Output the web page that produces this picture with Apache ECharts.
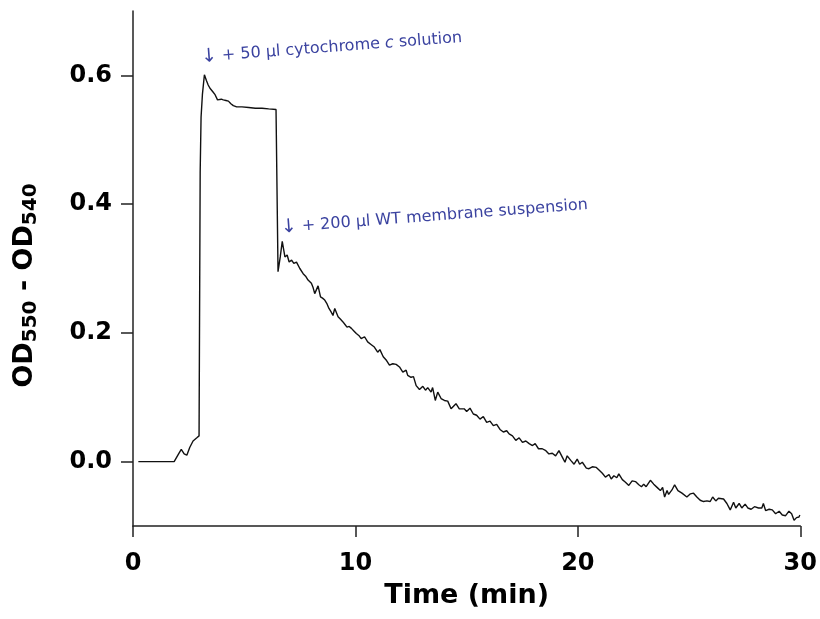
<!DOCTYPE html>
<html>
<head>
<meta charset="utf-8">
<script src="https://cdn.jsdelivr.net/npm/echarts@6/dist/echarts.min.js"></script>
<style>html,body{margin:0;padding:0;background:#fff}#c{width:820px;height:619px}</style>
</head>
<body>
<div id="c"></div>
<script>
// Time (min)
var timeMin = [0.24,1.85,2.05,2.17,2.30,2.42,2.55,2.70,2.87,2.97,3.02,3.06,3.12,3.21,3.30,3.38,3.46,3.58,3.69,3.80,3.88,3.97,4.06,4.18,4.29,4.40,4.51,4.66,4.90,5.20,5.50,5.80,6.10,6.43,
6.52,6.62,6.71,6.83,6.93,7.02,7.13,7.23,7.35,7.50,7.65,7.76,7.87,8.02,8.10,8.17,8.32,8.43,8.52,8.62,8.71,8.81,8.90,8.99,9.07,9.22,9.33,9.44,9.53,9.62,9.72,9.82,9.93,10.04,10.15,10.26,10.41,
10.55,10.70,10.85,11.00,11.10,11.25,11.40,11.53,11.68,11.83,11.98,12.13,12.28,12.35,12.50,12.61,12.73,12.88,13.03,13.15,13.25,13.40,13.47,13.59,13.70,13.85,14.00,14.15,14.30,14.52,14.67,14.89,
15.00,15.15,15.30,15.45,15.60,15.75,15.90,16.05,16.20,16.35,16.50,16.65,16.80,16.91,17.06,17.21,17.36,17.51,17.66,17.81,17.96,18.08,18.23,18.40,18.56,18.70,18.85,19.00,19.15,19.30,19.42,19.52,19.68,19.83,19.97,
20.08,20.20,20.38,20.50,20.65,20.83,20.95,21.10,21.24,21.40,21.50,21.62,21.75,21.84,22.00,22.14,22.29,22.44,22.59,22.74,22.86,22.96,23.07,23.26,23.41,23.56,23.71,23.81,23.90,24.01,24.08,24.23,24.35,24.50,24.68,24.90,
25.06,25.20,25.35,25.50,25.65,25.80,25.95,26.06,26.20,26.32,26.55,26.70,26.85,27.00,27.10,27.25,27.37,27.52,27.64,27.79,27.94,28.12,28.27,28.34,28.44,28.60,28.74,28.89,29.05,29.19,29.34,29.49,29.61,29.72,29.83,29.94,29.98];
// OD550 - OD540
var odDiff = [0.000,0.000,0.012,0.019,0.012,0.010,0.022,0.032,0.037,0.040,0.450,0.535,0.570,0.601,0.592,0.585,0.580,0.575,0.570,0.562,0.560,0.563,0.562,0.561,0.560,0.556,0.553,0.551,0.551,0.550,0.549,0.549,0.548,0.547,
0.295,0.318,0.342,0.318,0.321,0.310,0.313,0.308,0.310,0.300,0.292,0.288,0.282,0.277,0.270,0.261,0.273,0.256,0.254,0.251,0.246,0.238,0.233,0.227,0.238,0.225,0.221,0.217,0.213,0.209,0.210,0.207,0.203,0.199,0.196,0.191,0.194,
0.186,0.182,0.178,0.170,0.174,0.163,0.157,0.150,0.152,0.151,0.147,0.139,0.142,0.134,0.131,0.132,0.118,0.112,0.117,0.111,0.115,0.108,0.115,0.095,0.108,0.098,0.095,0.094,0.082,0.090,0.082,0.082,
0.078,0.083,0.074,0.072,0.066,0.070,0.061,0.063,0.056,0.058,0.050,0.046,0.048,0.043,0.040,0.033,0.037,0.030,0.032,0.028,0.025,0.028,0.020,0.020,0.017,0.012,0.013,0.009,0.017,0.007,-0.001,0.009,0.002,-0.004,0.004,
-0.004,-0.001,-0.010,-0.011,-0.008,-0.009,-0.013,-0.018,-0.024,-0.020,-0.027,-0.022,-0.025,-0.019,-0.028,-0.032,-0.037,-0.030,-0.031,-0.036,-0.039,-0.035,-0.039,-0.029,-0.035,-0.040,-0.045,-0.040,-0.055,-0.045,-0.051,-0.044,-0.036,-0.045,-0.049,-0.055,
-0.050,-0.049,-0.055,-0.060,-0.062,-0.061,-0.062,-0.055,-0.061,-0.057,-0.058,-0.065,-0.075,-0.063,-0.072,-0.065,-0.072,-0.066,-0.072,-0.074,-0.070,-0.072,-0.072,-0.065,-0.076,-0.074,-0.075,-0.081,-0.077,-0.083,-0.084,-0.077,-0.081,-0.091,-0.087,-0.086,-0.083];

var xTicks = [0, 10, 20, 30];
var yTicks = [0, 0.2, 0.4, 0.6];

var annotTime = [3.06, 6.65];
var annotOD = [0.628, 0.363];
var annotText = [
  '{r|\u2193}{t| + 50 \u00b5l cytochrome }{i|c}{t| solution}',
  '{r|\u2193}{t| + 200 \u00b5l WT membrane suspension}'
];

var chart = echarts.init(document.getElementById('c'));
var seriesData = timeMin.map(function (t, i) { return [t, odDiff[i]]; });
var annotBlue = '#3b43a0';
var markData = annotTime.map(function (t, i) {
  return { coord: [t, annotOD[i]], label: { formatter: annotText[i] } };
});

chart.setOption({
  animation: false,
  backgroundColor: '#fff',
  grid: { left: 133, right: 18, top: 11, bottom: 93 },
  xAxis: {
    type: 'value', min: 0, max: 30, interval: 10,
    name: 'Time (min)', nameLocation: 'middle', nameGap: 56,
    nameTextStyle: { fontFamily: 'DejaVu Sans', fontWeight: 'bold', fontSize: 27, color: '#000' },
    axisLine: { onZero: false, lineStyle: { color: '#222', width: 1.5 } },
    axisTick: { length: 11, lineStyle: { color: '#222', width: 1.5 }, customValues: xTicks },
    axisLabel: { customValues: xTicks, margin: 26, fontFamily: 'DejaVu Sans', fontWeight: 'bold', fontSize: 24, color: '#000' },
    splitLine: { show: false }
  },
  yAxis: {
    type: 'value', min: -0.1, max: 0.7,
    name: '{a|OD}{s|550}{a| - OD}{s|540}', nameLocation: 'middle', nameGap: 92, nameRotate: 90,
    nameTextStyle: {
      padding: [0, 34, 0, 0],
      rich: {
        a: { fontFamily: 'DejaVu Sans', fontWeight: 'bold', fontSize: 27, color: '#000', lineHeight: 32 },
        s: { fontFamily: 'DejaVu Sans', fontWeight: 'bold', fontSize: 20, color: '#000', lineHeight: 24, verticalAlign: 'bottom' }
      }
    },
    axisLine: { show: true, onZero: false, lineStyle: { color: '#222', width: 1.5 } },
    axisTick: { show: true, length: 12, lineStyle: { color: '#222', width: 1.5 }, customValues: yTicks },
    axisLabel: { customValues: yTicks, margin: 21, formatter: function (v) { return v.toFixed(1); },
      fontFamily: 'DejaVu Sans', fontWeight: 'bold', fontSize: 24, color: '#000' },
    splitLine: { show: false }
  },
  series: [{
    type: 'line',
    data: seriesData,
    showSymbol: false,
    lineStyle: { color: '#111', width: 1.4 },
    markPoint: {
      symbol: 'circle', symbolSize: 1,
      itemStyle: { color: 'rgba(0,0,0,0)' },
      label: {
        show: true, position: 'inside', align: 'left', verticalAlign: 'middle', rotate: 4.3,
        rich: {
          r: { fontFamily: 'DejaVu Sans', fontSize: 19, color: annotBlue },
          t: { fontFamily: 'DejaVu Sans', fontSize: 16, color: annotBlue },
          i: { fontFamily: 'DejaVu Sans', fontSize: 16, fontStyle: 'italic', color: annotBlue }
        }
      },
      data: markData
    }
  }]
});
</script>
</body>
</html>
